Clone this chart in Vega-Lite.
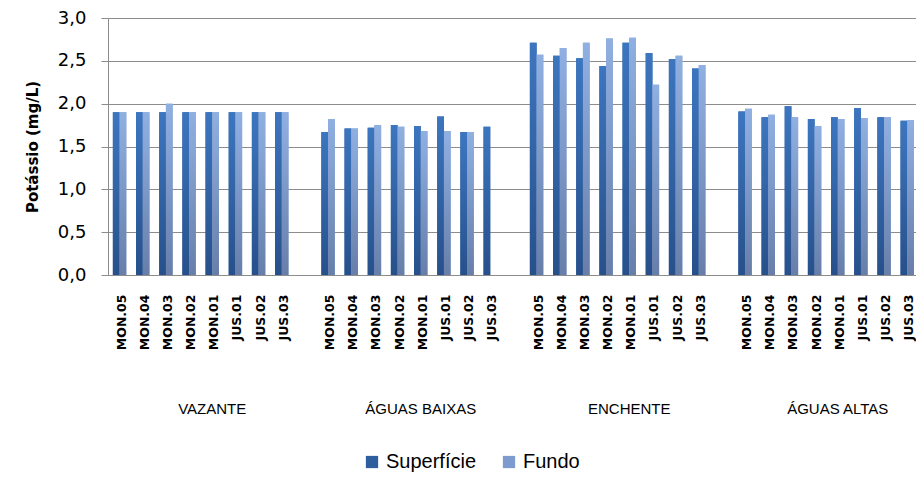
{
  "$schema": "https://vega.github.io/schema/vega-lite/v6.json",
  "width": 808,
  "height": 257,
  "autosize": {"type": "none"},
  "padding": {"left": 108, "top": 18, "right": 0, "bottom": 203},
  "background": "white",
  "config": {"view": {"stroke": null}},
  "datasets": {
    "barras": [
      {"cat": "VAZANTE|MON.05", "serie": "Superfície", "valor": 1.9},
      {"cat": "VAZANTE|MON.05", "serie": "Fundo", "valor": 1.9},
      {"cat": "VAZANTE|MON.04", "serie": "Superfície", "valor": 1.9},
      {"cat": "VAZANTE|MON.04", "serie": "Fundo", "valor": 1.9},
      {"cat": "VAZANTE|MON.03", "serie": "Superfície", "valor": 1.9},
      {"cat": "VAZANTE|MON.03", "serie": "Fundo", "valor": 2.0},
      {"cat": "VAZANTE|MON.02", "serie": "Superfície", "valor": 1.9},
      {"cat": "VAZANTE|MON.02", "serie": "Fundo", "valor": 1.9},
      {"cat": "VAZANTE|MON.01", "serie": "Superfície", "valor": 1.9},
      {"cat": "VAZANTE|MON.01", "serie": "Fundo", "valor": 1.9},
      {"cat": "VAZANTE|JUS.01", "serie": "Superfície", "valor": 1.9},
      {"cat": "VAZANTE|JUS.01", "serie": "Fundo", "valor": 1.9},
      {"cat": "VAZANTE|JUS.02", "serie": "Superfície", "valor": 1.9},
      {"cat": "VAZANTE|JUS.02", "serie": "Fundo", "valor": 1.9},
      {"cat": "VAZANTE|JUS.03", "serie": "Superfície", "valor": 1.9},
      {"cat": "VAZANTE|JUS.03", "serie": "Fundo", "valor": 1.9},
      {"cat": "ÁGUAS BAIXAS|MON.05", "serie": "Superfície", "valor": 1.67},
      {"cat": "ÁGUAS BAIXAS|MON.05", "serie": "Fundo", "valor": 1.82},
      {"cat": "ÁGUAS BAIXAS|MON.04", "serie": "Superfície", "valor": 1.71},
      {"cat": "ÁGUAS BAIXAS|MON.04", "serie": "Fundo", "valor": 1.71},
      {"cat": "ÁGUAS BAIXAS|MON.03", "serie": "Superfície", "valor": 1.72},
      {"cat": "ÁGUAS BAIXAS|MON.03", "serie": "Fundo", "valor": 1.75},
      {"cat": "ÁGUAS BAIXAS|MON.02", "serie": "Superfície", "valor": 1.75},
      {"cat": "ÁGUAS BAIXAS|MON.02", "serie": "Fundo", "valor": 1.73},
      {"cat": "ÁGUAS BAIXAS|MON.01", "serie": "Superfície", "valor": 1.74},
      {"cat": "ÁGUAS BAIXAS|MON.01", "serie": "Fundo", "valor": 1.68},
      {"cat": "ÁGUAS BAIXAS|JUS.01", "serie": "Superfície", "valor": 1.85},
      {"cat": "ÁGUAS BAIXAS|JUS.01", "serie": "Fundo", "valor": 1.68},
      {"cat": "ÁGUAS BAIXAS|JUS.02", "serie": "Superfície", "valor": 1.67},
      {"cat": "ÁGUAS BAIXAS|JUS.02", "serie": "Fundo", "valor": 1.67},
      {"cat": "ÁGUAS BAIXAS|JUS.03", "serie": "Superfície", "valor": 1.73},
      {"cat": "ENCHENTE|MON.05", "serie": "Superfície", "valor": 2.71},
      {"cat": "ENCHENTE|MON.05", "serie": "Fundo", "valor": 2.57},
      {"cat": "ENCHENTE|MON.04", "serie": "Superfície", "valor": 2.56},
      {"cat": "ENCHENTE|MON.04", "serie": "Fundo", "valor": 2.65},
      {"cat": "ENCHENTE|MON.03", "serie": "Superfície", "valor": 2.53},
      {"cat": "ENCHENTE|MON.03", "serie": "Fundo", "valor": 2.71},
      {"cat": "ENCHENTE|MON.02", "serie": "Superfície", "valor": 2.44},
      {"cat": "ENCHENTE|MON.02", "serie": "Fundo", "valor": 2.76},
      {"cat": "ENCHENTE|MON.01", "serie": "Superfície", "valor": 2.71},
      {"cat": "ENCHENTE|MON.01", "serie": "Fundo", "valor": 2.77},
      {"cat": "ENCHENTE|JUS.01", "serie": "Superfície", "valor": 2.59},
      {"cat": "ENCHENTE|JUS.01", "serie": "Fundo", "valor": 2.22},
      {"cat": "ENCHENTE|JUS.02", "serie": "Superfície", "valor": 2.52},
      {"cat": "ENCHENTE|JUS.02", "serie": "Fundo", "valor": 2.56},
      {"cat": "ENCHENTE|JUS.03", "serie": "Superfície", "valor": 2.41},
      {"cat": "ENCHENTE|JUS.03", "serie": "Fundo", "valor": 2.45},
      {"cat": "ÁGUAS ALTAS|MON.05", "serie": "Superfície", "valor": 1.91},
      {"cat": "ÁGUAS ALTAS|MON.05", "serie": "Fundo", "valor": 1.94},
      {"cat": "ÁGUAS ALTAS|MON.04", "serie": "Superfície", "valor": 1.84},
      {"cat": "ÁGUAS ALTAS|MON.04", "serie": "Fundo", "valor": 1.87},
      {"cat": "ÁGUAS ALTAS|MON.03", "serie": "Superfície", "valor": 1.97},
      {"cat": "ÁGUAS ALTAS|MON.03", "serie": "Fundo", "valor": 1.84},
      {"cat": "ÁGUAS ALTAS|MON.02", "serie": "Superfície", "valor": 1.82},
      {"cat": "ÁGUAS ALTAS|MON.02", "serie": "Fundo", "valor": 1.74},
      {"cat": "ÁGUAS ALTAS|MON.01", "serie": "Superfície", "valor": 1.84},
      {"cat": "ÁGUAS ALTAS|MON.01", "serie": "Fundo", "valor": 1.82},
      {"cat": "ÁGUAS ALTAS|JUS.01", "serie": "Superfície", "valor": 1.95},
      {"cat": "ÁGUAS ALTAS|JUS.01", "serie": "Fundo", "valor": 1.83},
      {"cat": "ÁGUAS ALTAS|JUS.02", "serie": "Superfície", "valor": 1.84},
      {"cat": "ÁGUAS ALTAS|JUS.02", "serie": "Fundo", "valor": 1.84},
      {"cat": "ÁGUAS ALTAS|JUS.03", "serie": "Superfície", "valor": 1.80},
      {"cat": "ÁGUAS ALTAS|JUS.03", "serie": "Fundo", "valor": 1.81}
    ],
    "grupos": [
      {"grupo": "VAZANTE"},
      {"grupo": "ÁGUAS BAIXAS"},
      {"grupo": "ENCHENTE"},
      {"grupo": "ÁGUAS ALTAS"}
    ]
  },
  "layer": [
    {
      "data": {"name": "barras"},
      "layer": [
        {
          "mark": {"type": "bar"},
          "encoding": {
            "x": {
              "field": "cat", "type": "nominal", "sort": null,
              "scale": {
                "domain": ["VAZANTE|MON.05","VAZANTE|MON.04","VAZANTE|MON.03","VAZANTE|MON.02","VAZANTE|MON.01","VAZANTE|JUS.01","VAZANTE|JUS.02","VAZANTE|JUS.03","b1",
                  "ÁGUAS BAIXAS|MON.05","ÁGUAS BAIXAS|MON.04","ÁGUAS BAIXAS|MON.03","ÁGUAS BAIXAS|MON.02","ÁGUAS BAIXAS|MON.01","ÁGUAS BAIXAS|JUS.01","ÁGUAS BAIXAS|JUS.02","ÁGUAS BAIXAS|JUS.03","b2",
                  "ENCHENTE|MON.05","ENCHENTE|MON.04","ENCHENTE|MON.03","ENCHENTE|MON.02","ENCHENTE|MON.01","ENCHENTE|JUS.01","ENCHENTE|JUS.02","ENCHENTE|JUS.03","b3",
                  "ÁGUAS ALTAS|MON.05","ÁGUAS ALTAS|MON.04","ÁGUAS ALTAS|MON.03","ÁGUAS ALTAS|MON.02","ÁGUAS ALTAS|MON.01","ÁGUAS ALTAS|JUS.01","ÁGUAS ALTAS|JUS.02","ÁGUAS ALTAS|JUS.03","b4"],
                "range": [0, 834],
                "paddingInner": 0.42,
                "paddingOuter": 0.21
              },
              "axis": {
                "title": null,
                "labelAngle": -90,
                "labelExpr": "indexof(datum.value,'|') >= 0 ? split(datum.value,'|')[1] : ''",
                "ticks": false,
                "domain": true,
                "domainColor": "#8c8c8c",
                "grid": false,
                "labelFont": "DejaVu Sans",
                "labelFontWeight": "bold",
                "labelFontSize": 12.5,
                "labelColor": "#000000",
                "labelPadding": 19,
                "labelOffset": 2,
                "labelOverlap": false
              }
            },
            "xOffset": {"field": "serie", "type": "nominal", "scale": {"domain": ["Superfície", "Fundo"], "paddingInner": 0, "paddingOuter": 0}},
            "y": {
              "field": "valor", "type": "quantitative",
              "scale": {"domain": [0, 3], "nice": false},
              "axis": {
                "title": "Potássio (mg/L)",
                "values": [0, 0.5, 1, 1.5, 2, 2.5, 3],
                "labelExpr": "replace(format(datum.value,'.1f'),'.',',')",
                "grid": true,
                "gridColor": "#8c8c8c",
                "domainColor": "#8c8c8c",
                "tickColor": "#8c8c8c",
                "tickSize": 7,
                "labelPadding": 15,
                "labelFont": "DejaVu Sans",
                "labelFontSize": 18,
                "labelColor": "#000000",
                "titleFont": "DejaVu Sans",
                "titleFontWeight": "bold",
                "titleFontSize": 15,
                "titleColor": "#000000",
                "titlePadding": 17
              }
            },
            "color": {
              "field": "serie", "type": "nominal",
              "scale": {"domain": ["Superfície", "Fundo"], "range": ["#2f5e9f", "#7e9bcf"]},
              "legend": {
                "title": null,
                "orient": "none",
                "legendX": 254,
                "legendY": 434,
                "direction": "horizontal",
                "symbolType": "square",
                "symbolSize": 150,
                "symbolStrokeWidth": 0,
                "labelFont": "Liberation Sans",
                "labelFontSize": 20,
                "labelColor": "#000000",
                "columnPadding": 22,
                "labelOffset": 4
              }
            }
          }
        },
        {
          "mark": {"type": "bar"},
          "encoding": {
            "x": {"field": "cat", "type": "nominal", "sort": null},
            "xOffset": {"field": "serie", "type": "nominal"},
            "y": {"field": "valor", "type": "quantitative"},
            "fill": {
              "condition": {
                "test": "datum.serie === 'Fundo'",
                "value": {"gradient": "linear", "x1": 0, "y1": 0, "x2": 0, "y2": 1, "stops": [{"offset": 0, "color": "#90b0e2"}, {"offset": 1, "color": "#677ea9"}]}
              },
              "value": {"gradient": "linear", "x1": 0, "y1": 0, "x2": 0, "y2": 1, "stops": [{"offset": 0, "color": "#3c76c0"}, {"offset": 1, "color": "#27508b"}]}
            }
          }
        }
      ]
    },
    {
      "data": {"name": "grupos"},
      "mark": {"type": "text", "font": "Liberation Sans", "fontSize": 15, "color": "#000000", "align": "center", "baseline": "middle"},
      "encoding": {
        "x": {
          "field": "grupo", "type": "nominal", "sort": null,
          "scale": {"domain": ["VAZANTE", "ÁGUAS BAIXAS", "ENCHENTE", "ÁGUAS ALTAS"], "range": [0, 834], "paddingInner": 0, "paddingOuter": 0},
          "axis": null
        },
        "y": {"datum": -1.57, "type": "quantitative"},
        "text": {"field": "grupo"}
      }
    }
  ],
  "resolve": {"scale": {"x": "independent"}}
}
